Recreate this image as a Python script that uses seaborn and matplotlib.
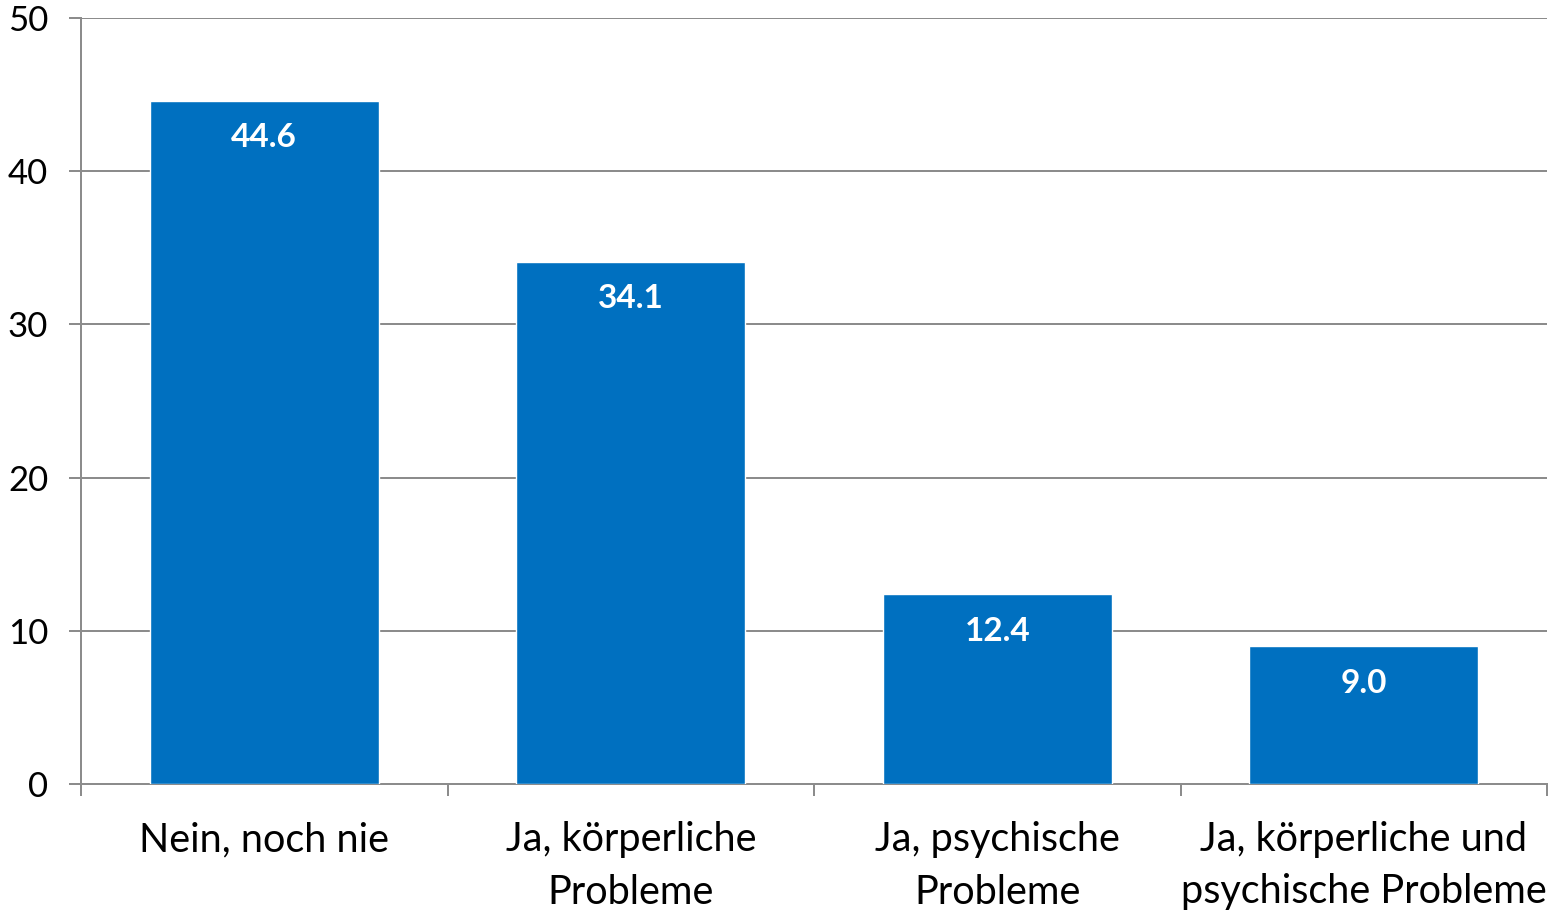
import matplotlib
matplotlib.use("Agg")
import matplotlib.pyplot as plt
import seaborn as sns
import pandas as pd
from matplotlib.ticker import FixedLocator, NullFormatter

categories = ["Nein, noch nie", "Ja, körperliche\nProbleme", "Ja, psychische\nProbleme",
              "Ja, körperliche und\npsychische Probleme"]
values = [44.6, 34.1, 12.4, 9.0]
yticks = [0, 10, 20, 30, 40, 50]

sns.set_theme(style="white")
plt.rcParams['font.family'] = ['Lato', 'DejaVu Sans']

df = pd.DataFrame({"cat": categories, "val": values})

fig = plt.figure(figsize=(15.5, 9.14), dpi=100)
ax = fig.add_axes([81/1550, 1-784/914, (1547-81)/1550, (784-18)/914])

grid_c = "#8C8C8C"
sns.barplot(data=df, x="cat", y="val", color="#0070C0", width=0.625, saturation=1, ax=ax, zorder=3)

ax.set_xlim(-0.5, 3.5)
ax.set_ylim(0, 50)
ax.set_yticks(yticks)
ax.set_yticklabels([str(t) for t in yticks], fontsize=25, color="black")
ax.yaxis.grid(True, color=grid_c, linewidth=1.44, zorder=0)
ax.set_axisbelow(True)
ax.tick_params(axis="y", length=8.6, width=1.44, color=grid_c, pad=15, left=True)
ax.tick_params(axis="x", which="major", length=0, labelsize=28.5, pad=27, colors="black")
ax.xaxis.set_minor_locator(FixedLocator([-0.5, 0.5, 1.5, 2.5, 3.5]))
ax.xaxis.set_minor_formatter(NullFormatter())
ax.tick_params(axis="x", which="minor", length=8.6, width=1.44, color=grid_c, bottom=True)
for lbl in ax.get_xticklabels():
    lbl.set_linespacing(1.5)
ax.set_xlabel("")
ax.set_ylabel("")

for s in ["top", "right"]:
    ax.spines[s].set_visible(False)
for s in ["left", "bottom"]:
    ax.spines[s].set_color(grid_c)
    ax.spines[s].set_linewidth(1.44)

for i, v in enumerate(values):
    ax.annotate(f"{v:.1f}", xy=(i, v), xytext=(0, -37), textcoords="offset pixels",
                ha="center", va="center", color="white", fontsize=24, fontweight="bold", zorder=5)

fig.savefig("out.png", dpi=100)
